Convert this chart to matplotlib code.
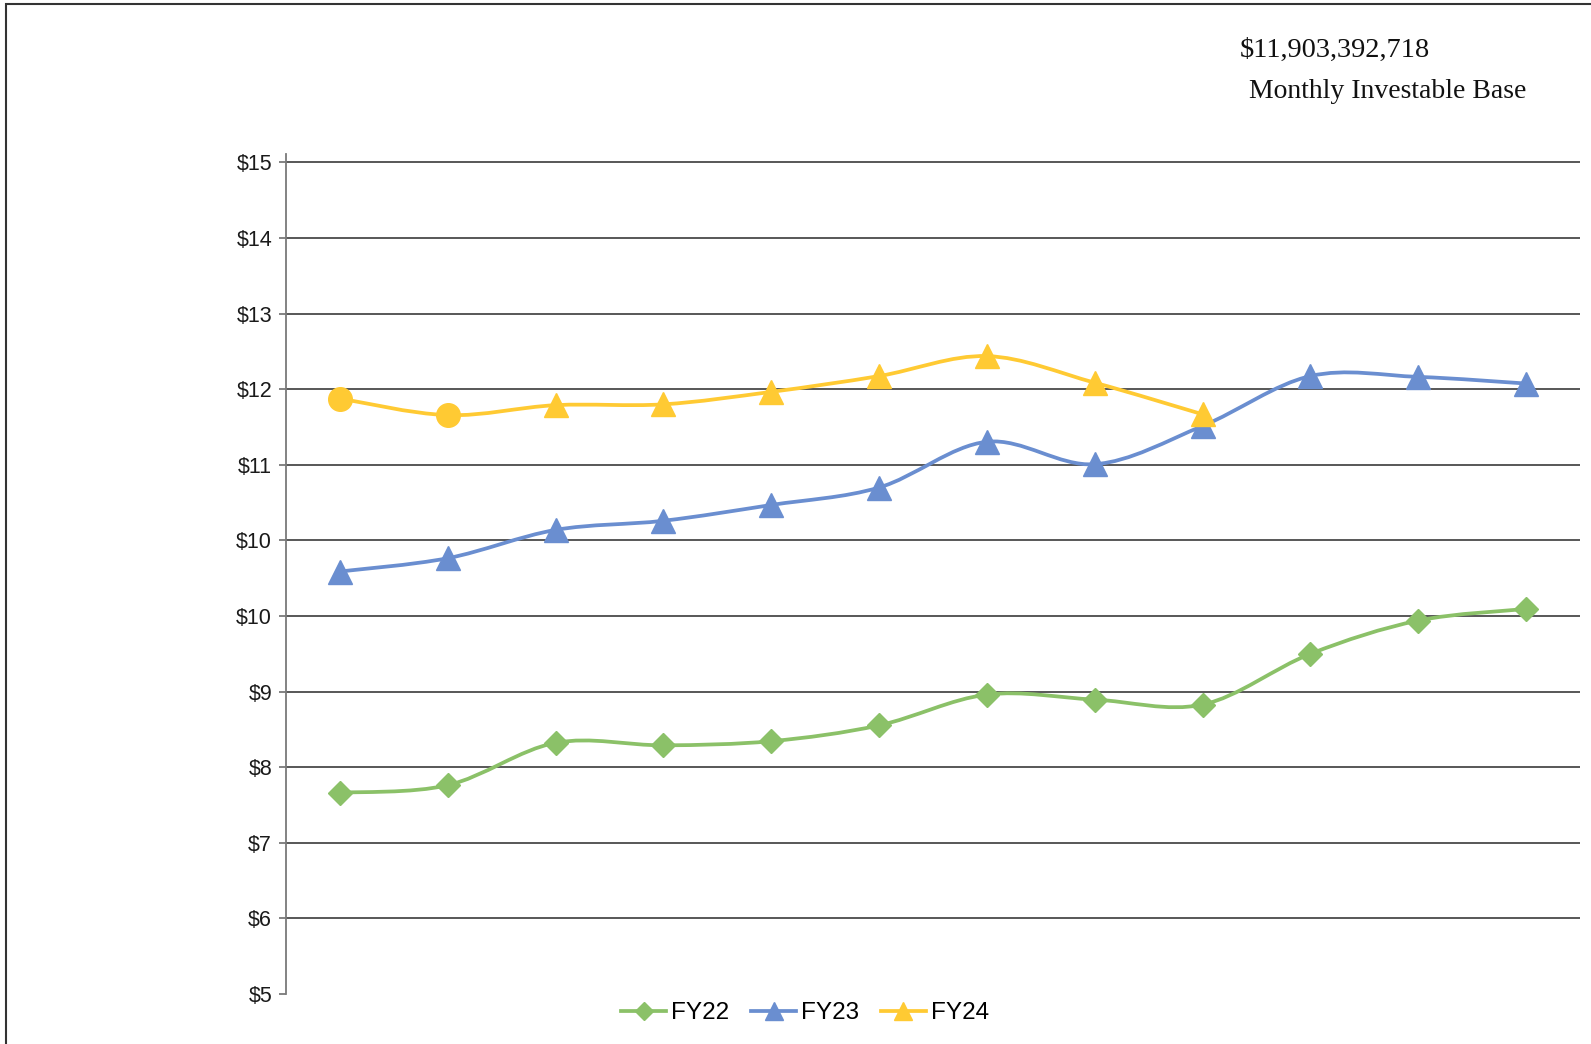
import numpy as np
import matplotlib
matplotlib.use('Agg')
import matplotlib.pyplot as plt
from matplotlib.path import Path
from matplotlib.patches import PathPatch, Rectangle
from matplotlib.lines import Line2D

# monthly investable base, billions of dollars
fy22 = [7.42, 7.51, 8.02, 7.99, 8.04, 8.23, 8.60, 8.54, 8.48, 9.09, 9.49, 9.63]
fy23 = [10.08, 10.24, 10.58, 10.69, 10.88, 11.09, 11.64, 11.37, 11.83, 12.43, 12.42, 12.34]
fy24 = [12.16, 11.96, 12.08, 12.09, 12.24, 12.43, 12.67, 12.35, 11.97]
fy24_circle_pts = 2

series_names = ['FY22', 'FY23', 'FY24']
colors = ['#8BC168', '#6A8ED0', '#FFCA33']

total_label = '$11,903,392,718'
subtitle = 'Monthly Investable Base'

y_min, y_max = 5, 15
y_ticks = np.linspace(y_min, y_max, 12)

W, H = 1591, 1044
fig = plt.figure(figsize=(W/100, H/100), dpi=100)
plt.rcParams['font.family'] = ['Liberation Sans', 'DejaVu Sans']

top_val = 15.1
ax = fig.add_axes([286/W, (H-994)/H, (1580-286)/W, (994-154)/H])
ax.set_xlim(-0.5, 11.5)
ax.set_ylim(y_min, top_val)


def smooth_path(xs, ys):
    pts = np.column_stack([xs, ys]).astype(float)
    n = len(pts)
    verts = [pts[0]]
    codes = [Path.MOVETO]
    for i in range(n-1):
        p0 = pts[max(i-1, 0)]
        p1 = pts[i]
        p2 = pts[i+1]
        p3 = pts[min(i+2, n-1)]
        verts += [p1 + (p2-p0)/6, p2 - (p3-p1)/6, p2]
        codes += [Path.CURVE4]*3
    return Path(verts, codes)


for k, vals in enumerate([fy22, fy23, fy24]):
    xs = np.arange(len(vals))
    c = colors[k]
    ax.add_patch(PathPatch(smooth_path(xs, vals), facecolor='none', edgecolor=c,
                           lw=2.7, capstyle='round', zorder=3+k))
    if k == 0:
        ax.plot(xs, vals, ls='none', marker='D', ms=12.5, color=c, mec=c, zorder=3+k)
    elif k == 1:
        ax.plot(xs, vals, ls='none', marker='^', ms=17, color=c, mec=c, zorder=3+k)
    else:
        ax.plot(xs[:fy24_circle_pts], vals[:fy24_circle_pts], ls='none', marker='o',
                ms=17, color=c, mec=c, zorder=3+k)
        ax.plot(xs[fy24_circle_pts:], vals[fy24_circle_pts:], ls='none', marker='^',
                ms=17, color=c, mec=c, zorder=3+k)

ax.set_yticks(y_ticks)
ax.set_yticklabels(['$%.0f' % v for v in y_ticks], fontsize=15.5, color='#1a1a1a')
ax.set_xticks([])
for v in y_ticks[1:]:
    ax.axhline(v, color='#4a4a4a', lw=1.3, zorder=1)
for s in ['top', 'right', 'bottom']:
    ax.spines[s].set_visible(False)
ax.spines['left'].set_color('#7a7a7a')
ax.spines['left'].set_linewidth(1.3)
ax.tick_params(axis='y', length=5, width=1.3, color='#7a7a7a', pad=5)

handles = [
    Line2D([], [], color=colors[0], lw=2.7, marker='D', ms=9),
    Line2D([], [], color=colors[1], lw=2.7, marker='^', ms=12.5),
    Line2D([], [], color=colors[2], lw=2.7, marker='^', ms=12.5),
]
fig.legend(handles, series_names, loc='center', bbox_to_anchor=(805/W, 1-1013/H),
           ncol=3, frameon=False, fontsize=17.5, handlelength=1.85, handletextpad=0.2,
           columnspacing=0.9)

fig.text(1335/W, 1-50/H, total_label, ha='center', va='center', fontsize=20.5,
         family='Liberation Serif', color='#111111')
fig.text(1388/W, 1-92/H, subtitle, ha='center', va='center', fontsize=20,
         family='Liberation Serif', color='#111111')

fig.add_artist(Rectangle((6/W, -0.1), 1.5, 1.1 - 4/H, transform=fig.transFigure,
                         fill=False, edgecolor='#333333', lw=1.5))

fig.savefig('out.png', dpi=100)
